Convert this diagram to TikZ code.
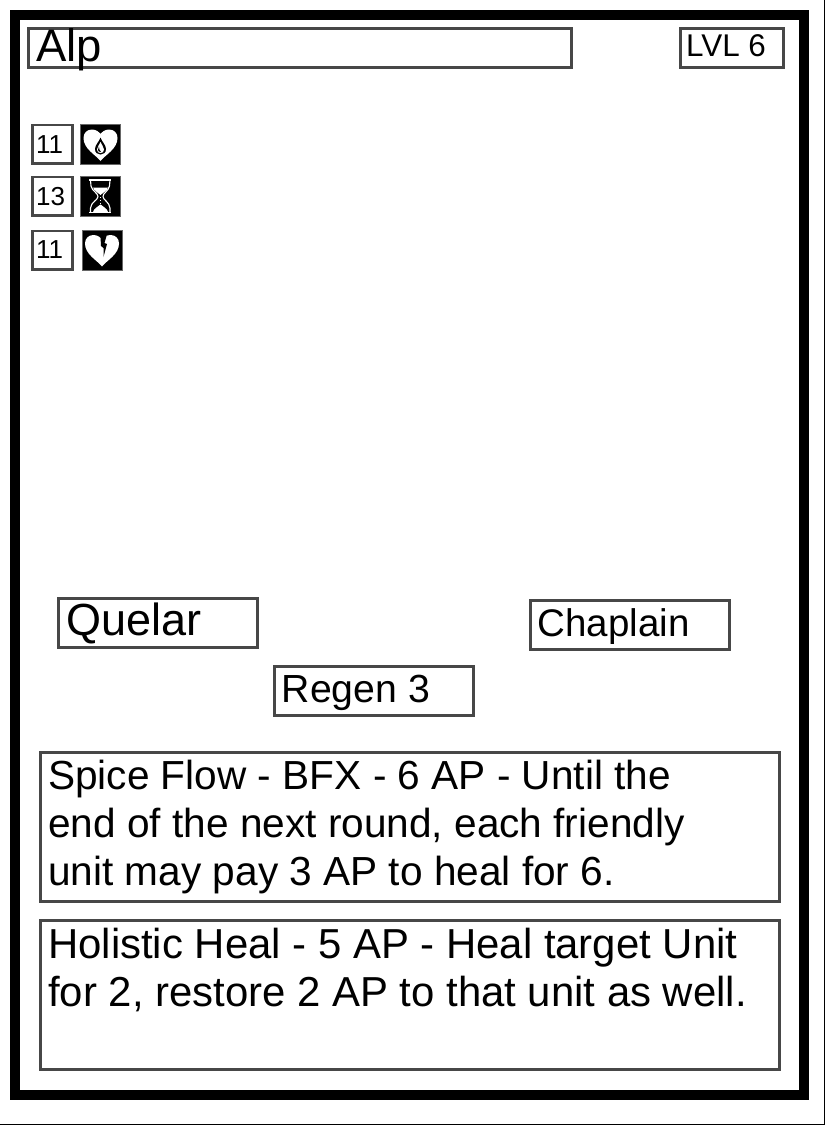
\documentclass[tikz,border=0pt]{standalone}
\usepackage{fontspec}
\setmainfont{Liberation Sans}
\tikzset{
  x=1pt,y=-1pt,
  box/.style={draw=black!72,line width=2.1pt,fill=white},
  txt/.style={inner sep=0pt,anchor=base west},
  iconbg/.style={fill=black,draw=black!60,line width=0.9pt},
  iconfg/.style={fill=white,draw=none},
  iconln/.style={draw=white,line width=1.1pt,fill=none},
}
\newcommand{\fs}[1]{\fontsize{#1}{#1}\selectfont}
\newcommand{\heartshape}[2]{%
  \fill[iconfg,shift={(#1,#2)}] (20.5,36) .. controls (16,30) and (3.5,24) .. (3.5,13) .. controls (3.5,8) and (7,4.5) .. (12,4.5) .. controls (16,4.5) and (19,7) .. (20.5,9) .. controls (22,7) and (25,4.5) .. (29,4.5) .. controls (34,4.5) and (37.5,8) .. (37.5,13) .. controls (37.5,24) and (25,30) .. (20.5,36) -- cycle;}
\begin{document}
\begin{tikzpicture}
\useasboundingbox (0,0) rectangle (825,1125);
\fill[white] (0,0) rectangle (825,1125);
\draw[black,line width=1pt] (824.5,0) -- (824.5,1124.5) -- (0,1124.5);
\draw[black,line width=10pt,miter limit=10] (15,15) rectangle (804,1095);
% title
\draw[box] (28.5,28.5) rectangle (571.5,67.5);
\node[txt] (title) at (36,61) {\fs{45.5}Alp};
\draw[box] (680.5,28.5) rectangle (783.5,67.5);
\node[txt] (lvl) at (686,56) {\fs{31.4}LVL 6};
% stats
\draw[box] (32.5,125) rectangle (72.5,163.5);
\node[txt] (s1) at (36,153.5) {\fs{26}11};
\draw[box] (32.5,177) rectangle (72.5,215.5);
\node[txt] (s2) at (36,205.5) {\fs{26}13};
\draw[box] (32.5,231) rectangle (72.5,269.5);
\node[txt] (s3) at (36,258.5) {\fs{26}11};
% icon 1: heart with drop
\fill[iconbg] (80.5,124.5) rectangle (120,164);
\heartshape{80}{125}
\fill[black] (100.5,137.5) .. controls (99,142) and (95,145) .. (95,149) .. controls (95,153) and (98,154.5) .. (100.5,154.5) .. controls (103,154.5) and (106,153) .. (106,149) .. controls (106,145) and (102,142) .. (100.5,137.5) -- cycle;
\fill[white] (100.5,142) .. controls (99.5,145) and (97,147) .. (97,149.5) .. controls (97,152) and (98.5,153) .. (100.5,153) .. controls (102.5,153) and (104,152) .. (104,149.5) .. controls (104,147) and (101.5,145) .. (100.5,142) -- cycle;
\fill[black] (99,146.5) .. controls (98.5,148) and (98,149) .. (98,150) .. controls (98,151.5) and (99.5,152) .. (101,152) .. controls (99.5,150.5) and (99,149) .. (99,146.5) -- cycle;
% icon 2: hourglass
\fill[iconbg] (80.5,176.5) rectangle (120,216);
\draw[iconln,line width=1.6pt] (89,180) -- (111,180);
\draw[iconln,line width=1.6pt] (89,212.5) -- (111,212.5);
\draw[iconln] (90.5,180) -- (91,186) .. controls (92,191) and (98,193) .. (98,196.5) .. controls (98,200) and (91,202) .. (90.5,208) -- (90.5,212);
\draw[iconln] (110,180) -- (109.5,186) .. controls (108.5,191) and (103,193) .. (103,196.5) .. controls (103,200) and (109.5,202) .. (110,208) -- (110,212);
\fill[white] (93,187.5) -- (108,187.5) .. controls (107,191) and (103,192.5) .. (100.5,195) .. controls (98,192.5) and (94,191) .. (93,187.5) -- cycle;
\fill[white] (93,212) .. controls (94,208) and (98,207) .. (100.5,204.5) .. controls (103,207) and (107,208) .. (108,212) -- cycle;
\draw[white,line width=1pt,dash pattern=on 1.2pt off 1.6pt] (100.5,197) -- (100.5,205);
% icon 3: broken heart
\fill[iconbg] (82.5,230.5) rectangle (122,270);
\heartshape{81.5}{230.5}
\fill[black] (100.5,237) -- (106.5,236) -- (104.5,243) -- (107,244) -- (103.5,257) -- (103.5,248) -- (101,246) -- cycle;
% keywords
\draw[box] (58.5,598.5) rectangle (257.5,647.5);
\node[txt] (k1) at (66,635.5) {\fs{45}Quelar};
\draw[box] (530.5,600.5) rectangle (729.5,649.5);
\node[txt] (k2) at (537.5,636) {\fs{38.5}Chaplain};
\draw[box] (274.5,666.5) rectangle (473.5,715.5);
\node[txt] (k3) at (281.5,702) {\fs{39.2}Regen 3};
% abilities
\draw[box] (40.5,752.5) rectangle (779.5,901.5);
\node[txt] (a11) at (48,789.5) {\fs{40.6}Spice Flow - BFX - 6 AP - Until the};
\node[txt] (a12) at (48,837.5) {\fs{40.6}end of the next round, each friendly};
\node[txt] (a13) at (48,885.5) {\fs{40.6}unit may pay 3 AP to heal for 6.};
\draw[box] (40.5,920.5) rectangle (779.5,1069.5);
\node[txt] (a21) at (48,958) {\fs{41.9}Holistic Heal - 5 AP - Heal target Unit};
\node[txt] (a22) at (48,1006) {\fs{41.9}for 2, restore 2 AP to that unit as well.};
\end{tikzpicture}
\end{document}
